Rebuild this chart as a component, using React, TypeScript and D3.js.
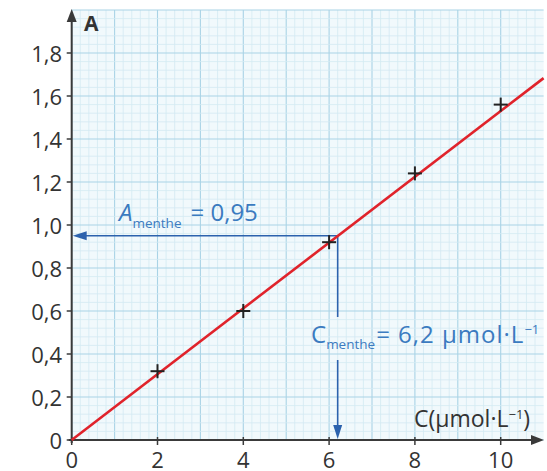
import React from "react";
import * as d3 from "d3";

const concentrations = [2, 4, 6, 8, 10];
const absorbances = [0.32, 0.6, 0.92, 1.24, 1.56];
const xTicks = [0, 2, 4, 6, 8, 10];
const xTickLabels = ["0", "2", "4", "6", "8", "10"];
const yTicks = [0, 0.2, 0.4, 0.6, 0.8, 1.0, 1.2, 1.4, 1.6, 1.8];
const yTickLabels = ["0", "0,2", "0,4", "0,6", "0,8", "1,0", "1,2", "1,4", "1,6", "1,8"];
const fitSlope = 0.153;
const aMenthe = 0.95;
const cMenthe = 6.2;

const W = 547;
const H = 471;

export default function App() {
  const x = d3.scaleLinear().domain([0, 11]).range([71.7, 543.6]);
  const y = d3.scaleLinear().domain([0, 2]).range([440, 10]);

  const minorX = d3.range(0, 55).map((i) => i * 0.2);
  const minorY = d3.range(0, 51).map((i) => i * 0.04);
  const fitLine = d3.line<number>().x((d) => x(d)).y((d) => y(fitSlope * d))([0, 11]);

  const blue = "#2c62ad";
  const txtBlue = "#3b7bc0";
  const axisCol = "#3a3a3a";
  const font = "'Open Sans', Lato, sans-serif";

  const x0 = x(0);
  const y0 = y(0);
  const xc = x(cMenthe);
  const ya = y(aMenthe);

  return (
    <svg width={W} height={H} style={{ position: "absolute", left: 0, top: 0, background: "#fff" }}>
      <rect x={x0} y={y(2)} width={x(11) - x0} height={y0 - y(2)} fill="#f1f9fc" />
      {minorX.map((v, i) => (
        <line key={"mx" + i} x1={x(v)} x2={x(v)} y1={y(0)} y2={y(2)}
          stroke={i % 5 === 0 ? "#a9d3e6" : "#d3eaf3"} strokeWidth={i % 5 === 0 ? 1.1 : 0.8} />
      ))}
      {minorY.map((v, i) => (
        <line key={"my" + i} x1={x(0)} x2={x(11)} y1={y(v)} y2={y(v)}
          stroke={i % 5 === 0 ? "#a9d3e6" : "#d3eaf3"} strokeWidth={i % 5 === 0 ? 1.1 : 0.8} />
      ))}

      {/* axes */}
      <line x1={x0} x2={x0} y1={y0 + 3} y2={20} stroke={axisCol} strokeWidth={2} />
      <path d={`M${x0},9 L${x0 - 5},22 L${x0 + 5},22 Z`} fill={axisCol} />
      <line x1={x0 - 3} x2={532} y1={y0} y2={y0} stroke={axisCol} strokeWidth={2} />
      <path d={`M544,${y0} L531,${y0 - 5} L531,${y0 + 5} Z`} fill={axisCol} />

      {yTicks.map((t, i) => (
        <g key={"yt" + i}>
          <line x1={x0 - 5} x2={x0} y1={y(t)} y2={y(t)} stroke={axisCol} strokeWidth={1.5} />
          <text x={62} y={y(t) + 9} textAnchor="end" fontSize={22} fontFamily={font} fill="#333">
            {yTickLabels[i]}
          </text>
        </g>
      ))}
      {xTicks.map((t, i) => (
        <g key={"xt" + i}>
          <line x1={x(t)} x2={x(t)} y1={y0 - 3} y2={y0 + 5} stroke={axisCol} strokeWidth={1.5} />
          <text x={x(t)} y={468} textAnchor="middle" fontSize={22} fontFamily={font} fill="#333">
            {xTickLabels[i]}
          </text>
        </g>
      ))}

      <text x={84} y={31} fontSize={21} fontWeight="bold" fontFamily={font} fill="#333">A</text>
      <text x={414} y={427} fontSize={23} fontFamily={font} fill="#333">
        C(μmol·L<tspan dy={-8} fontSize={13}>−1</tspan><tspan dy={8}>)</tspan>
      </text>

      {/* annotation lines */}
      <line x1={xc} x2={x0 + 14} y1={ya} y2={ya} stroke={blue} strokeWidth={1.6} />
      <path d={`M${x0 + 1},${ya} L${x0 + 15},${ya - 4.5} L${x0 + 15},${ya + 4.5} Z`} fill={blue} />
      <line x1={xc} x2={xc} y1={ya} y2={317} stroke={blue} strokeWidth={1.6} />
      <line x1={xc} x2={xc} y1={360} y2={426} stroke={blue} strokeWidth={1.6} />
      <path d={`M${xc},${y0 - 1} L${xc - 4.5},${425} L${xc + 4.5},${425} Z`} fill={blue} />

      {/* fit line */}
      <path d={fitLine || ""} stroke="#e0232b" strokeWidth={2.6} fill="none" />

      {/* data points */}
      {concentrations.map((c, i) => (
        <g key={"p" + i} stroke="#222" strokeWidth={2}>
          <line x1={x(c) - 7} x2={x(c) + 7} y1={y(absorbances[i])} y2={y(absorbances[i])} />
          <line x1={x(c)} x2={x(c)} y1={y(absorbances[i]) - 7} y2={y(absorbances[i]) + 7} />
        </g>
      ))}

      {/* annotation texts */}
      <text x={119} y={221} fontSize={24} fontFamily={font} fill={txtBlue}>
        <tspan fontStyle="italic">A</tspan>
        <tspan dy={7} fontSize={13.5}>menthe</tspan>
        <tspan dy={-7} dx={9}>= 0,95</tspan>
      </text>
      <text x={311} y={343} fontSize={24} fontFamily={font} fill={txtBlue}>
        <tspan>C</tspan>
        <tspan dy={6} fontSize={13.5}>menthe</tspan>
        <tspan dy={-6} dx={1} letterSpacing={1}>= 6,2 μmol·L</tspan>
        <tspan dy={-9} fontSize={13}>−1</tspan>
      </text>
    </svg>
  );
}
